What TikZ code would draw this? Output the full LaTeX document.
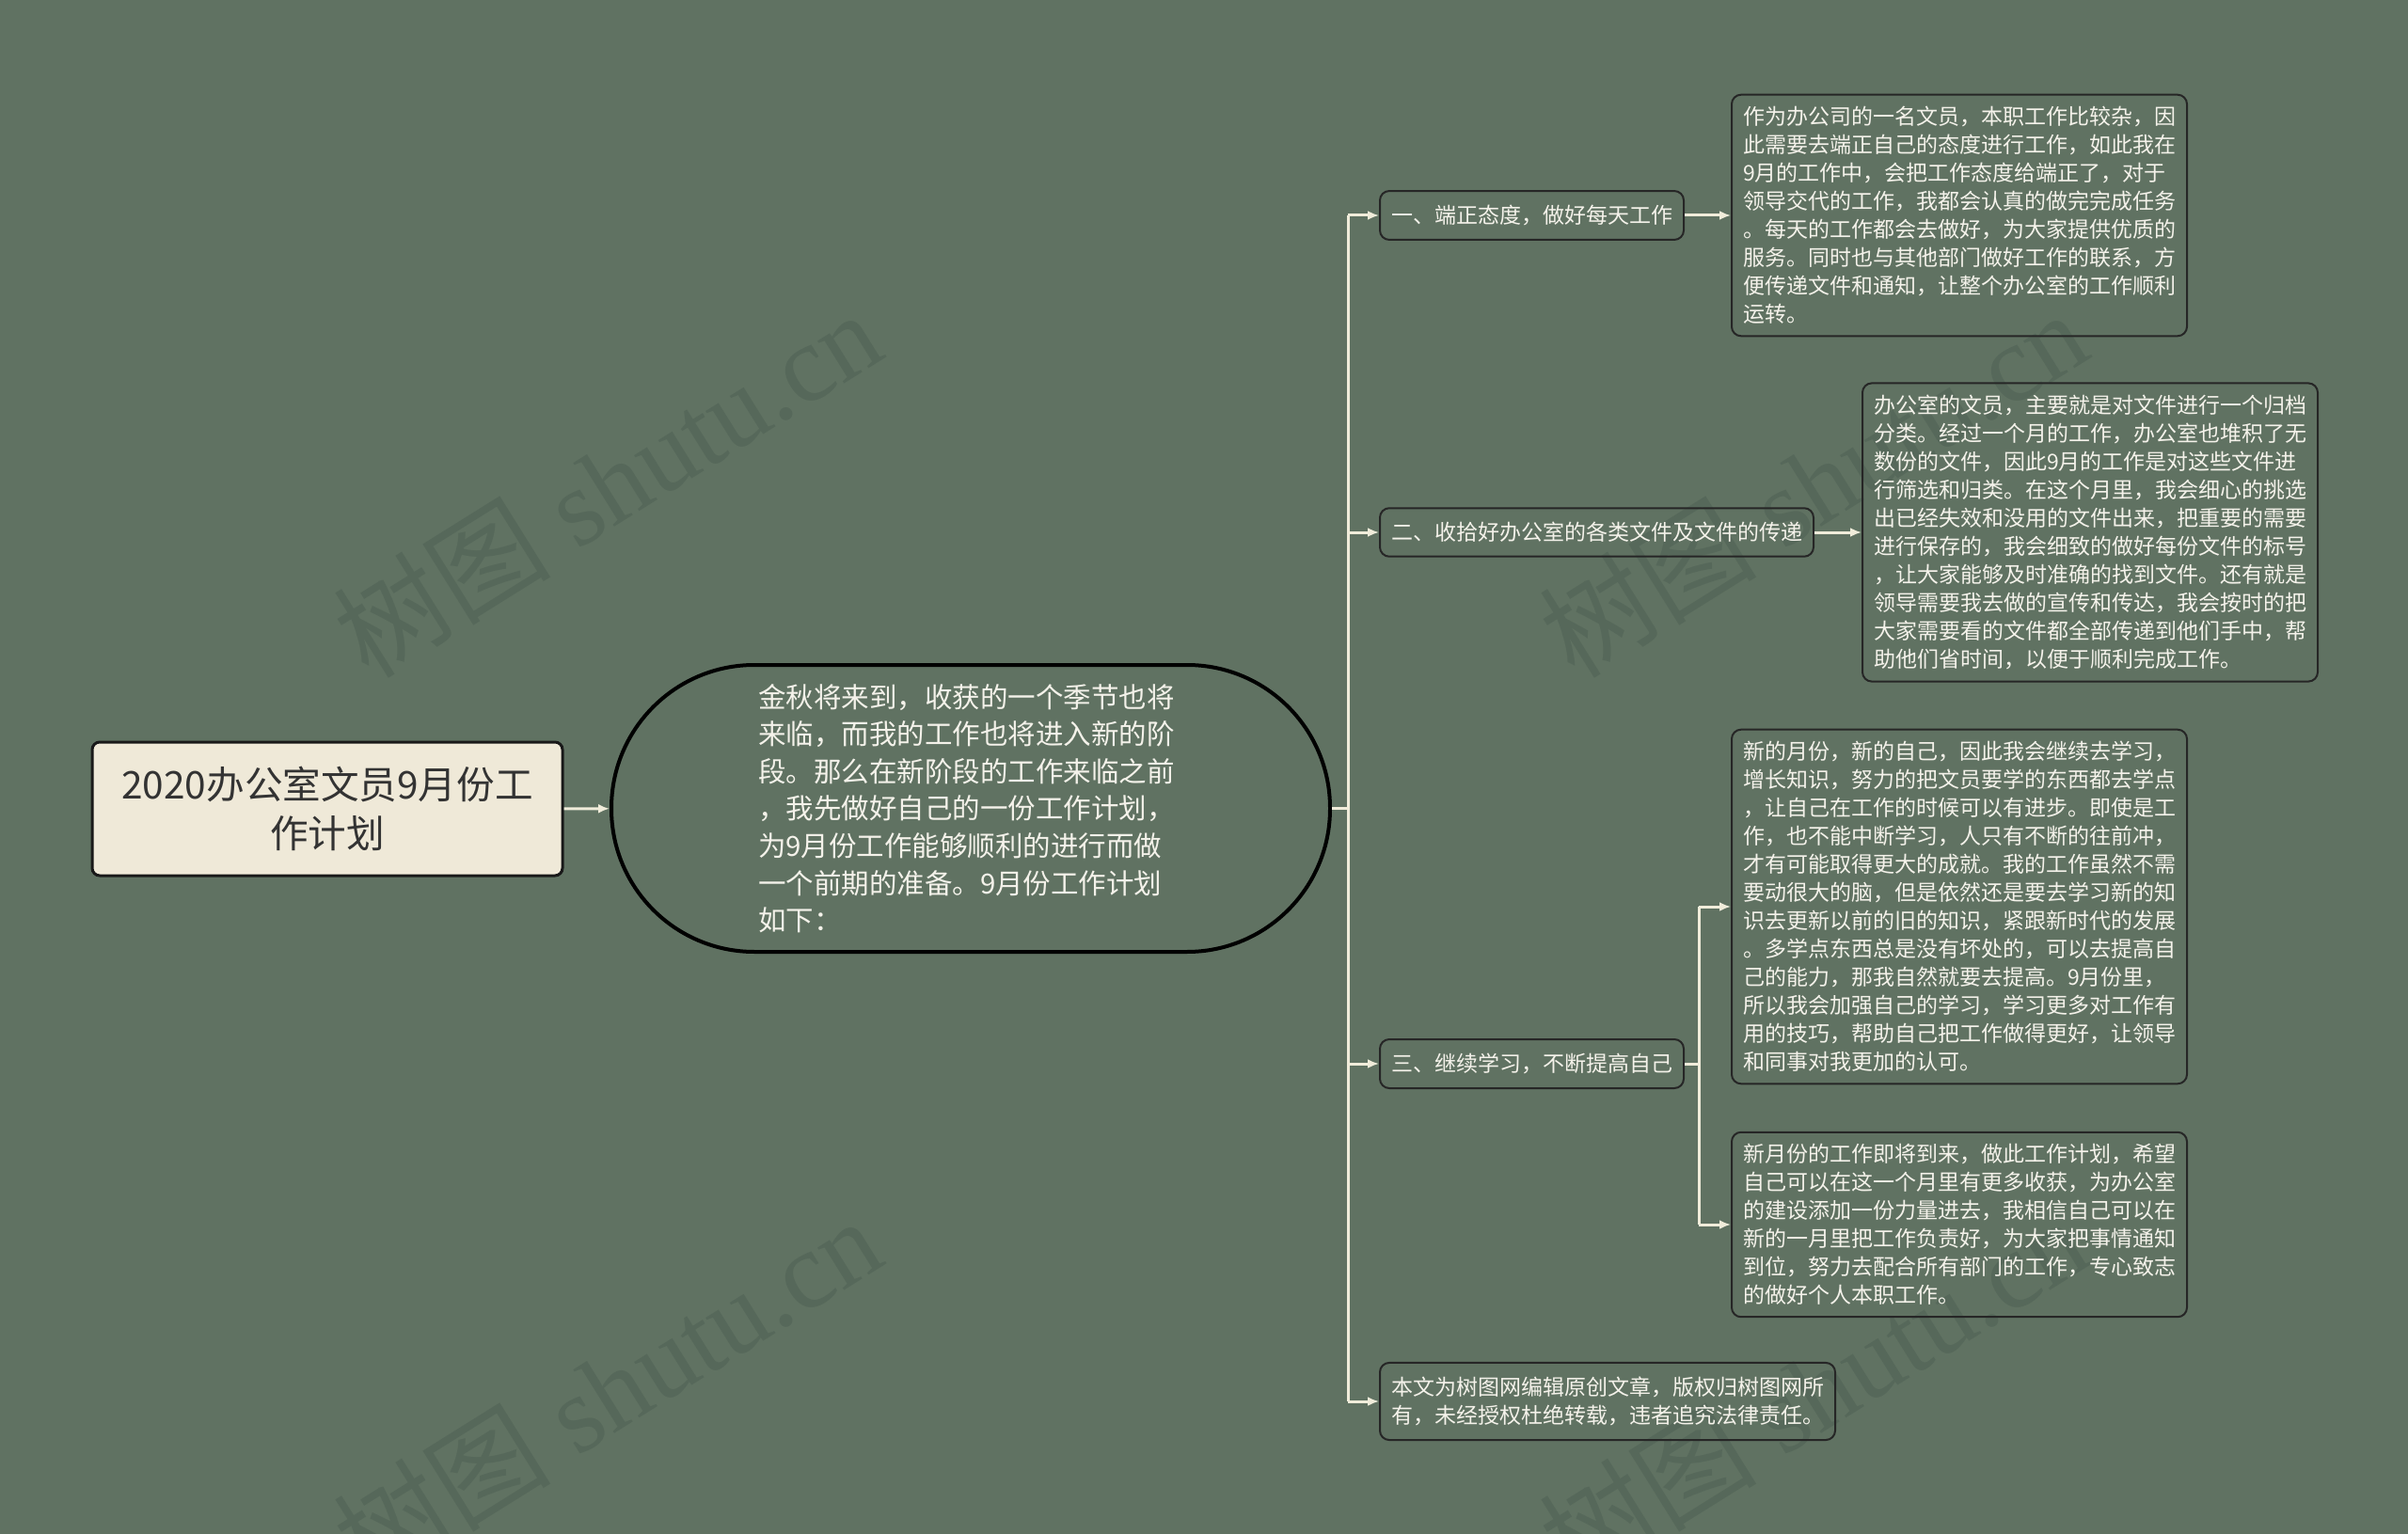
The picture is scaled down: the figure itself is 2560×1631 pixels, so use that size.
\documentclass[tikz,border=0pt]{standalone}
\usepackage{fontspec}
\newfontfamily\cjk{Noto Sans CJK SC}
\newfontfamily\wmserif{Liberation Serif}
\usetikzlibrary{arrows.meta}
\definecolor{bgc}{HTML}{607262}
\definecolor{linec}{HTML}{F0ECDA}
\definecolor{rootc}{HTML}{EFE9D8}
\definecolor{txtc}{HTML}{F4F2EA}
\definecolor{wmc}{HTML}{56685A}

\begin{document}
\begin{tikzpicture}[x=0.5pt,y=-0.5pt,
  wm/.style={text=wmc,rotate=32,font={\wmserif\fontsize{58}{58}\selectfont}},
  rootbox/.style={draw=black!90,line width=1.5pt,fill=rootc,rounded corners=4pt,minimum width=250pt,minimum height=71pt,align=center,text=black!80,font={\cjk\fontsize{20.3}{26}\selectfont}},
  midbox/.style={draw=black,line width=2pt,rounded corners=76pt,minimum width=382pt,minimum height=152.5pt,text width=226pt,align=left,text=txtc,font={\cjk\fontsize{14.75}{19.8}\selectfont}},
  brbox/.style={draw=black!85,line width=1pt,rounded corners=5pt,inner xsep=6pt,inner ysep=7.5pt,text=txtc,anchor=west,font={\cjk\fontsize{11.5}{15}\selectfont}},
  leafbox/.style={draw=black!85,line width=1pt,rounded corners=5pt,inner xsep=6pt,inner ysep=6.3pt,text width=230pt,align=left,text=txtc,anchor=west,font={\cjk\fontsize{11.5}{15}\selectfont}},
  line/.style={draw=linec,line width=1.5pt},
  link/.style={line,-{Latex[length=6pt,width=5pt]}}]
\useasboundingbox (0,0) rectangle (2560,1631);
\fill[bgc] (0,0) rectangle (2560,1631);
\node[wm] (w1) at (645,514) {{\cjk 树图} shutu.cn};
\node[wm] (w2) at (1927,514) {{\cjk 树图} shutu.cn};
\node[wm] (w3) at (645,1478) {{\cjk 树图} shutu.cn};
\node[wm] (w4) at (1927,1478) {{\cjk 树图} shutu.cn};

\node[rootbox] (root) at (348,860) {2020办公室文员9月份工\\作计划};
\node[midbox] (mid) at (1032,859.5) {金秋将来到，收获的一个季节也将\\来临，而我的工作也将进入新的阶\\段。那么在新阶段的工作来临之前\\，我先做好自己的一份工作计划，\\为9月份工作能够顺利的进行而做\\一个前期的准备。9月份工作计划\\如下：};

\node[brbox] (b1) at (1466,229) {一、端正态度，做好每天工作};
\node[brbox] (b2) at (1466,566) {二、收拾好办公室的各类文件及文件的传递};
\node[brbox] (b3) at (1466,1131) {三、继续学习，不断提高自己};
\node[brbox,text width=230pt,align=left] (b4) at (1466,1490) {本文为树图网编辑原创文章，版权归树图网所\\有，未经授权杜绝转载，违者追究法律责任。};

\node[leafbox] (l1) at (1840,229) {作为办公司的一名文员，本职工作比较杂，因\\此需要去端正自己的态度进行工作，如此我在\\9月的工作中，会把工作态度给端正了，对于\\领导交代的工作，我都会认真的做完完成任务\\。每天的工作都会去做好，为大家提供优质的\\服务。同时也与其他部门做好工作的联系，方\\便传递文件和通知，让整个办公室的工作顺利\\运转。};
\node[leafbox] (l2) at (1979,566) {办公室的文员，主要就是对文件进行一个归档\\分类。经过一个月的工作，办公室也堆积了无\\数份的文件，因此9月的工作是对这些文件进\\行筛选和归类。在这个月里，我会细心的挑选\\出已经失效和没用的文件出来，把重要的需要\\进行保存的，我会细致的做好每份文件的标号\\，让大家能够及时准确的找到文件。还有就是\\领导需要我去做的宣传和传达，我会按时的把\\大家需要看的文件都全部传递到他们手中，帮\\助他们省时间，以便于顺利完成工作。};
\node[leafbox] (l3a) at (1840,964) {新的月份，新的自己，因此我会继续去学习，\\增长知识，努力的把文员要学的东西都去学点\\，让自己在工作的时候可以有进步。即使是工\\作，也不能中断学习，人只有不断的往前冲，\\才有可能取得更大的成就。我的工作虽然不需\\要动很大的脑，但是依然还是要去学习新的知\\识去更新以前的旧的知识，紧跟新时代的发展\\。多学点东西总是没有坏处的，可以去提高自\\己的能力，那我自然就要去提高。9月份里，\\所以我会加强自己的学习，学习更多对工作有\\用的技巧，帮助自己把工作做得更好，让领导\\和同事对我更加的认可。};
\node[leafbox] (l3b) at (1840,1302) {新月份的工作即将到来，做此工作计划，希望\\自己可以在这一个月里有更多收获，为办公室\\的建设添加一份力量进去，我相信自己可以在\\新的一月里把工作负责好，为大家把事情通知\\到位，努力去配合所有部门的工作，专心致志\\的做好个人本职工作。};

\coordinate (trunk) at (1433,859.5);
\coordinate (fork) at (1806,1131);
\draw[link] (root) -- (mid);
\draw[line] (mid) -- (trunk);
\draw[line] (trunk |- b1) -- (trunk |- b4);
\foreach \b in {b1,b2,b3,b4}
  \draw[link] (trunk |- \b) -- (\b);
\draw[link] (b1) -- (l1);
\draw[link] (b2) -- (l2);
\draw[line] (b3) -- (fork);
\draw[line] (fork |- l3a) -- (fork |- l3b);
\draw[link] (fork |- l3a) -- (l3a);
\draw[link] (fork |- l3b) -- (l3b);
\end{tikzpicture}
\end{document}
